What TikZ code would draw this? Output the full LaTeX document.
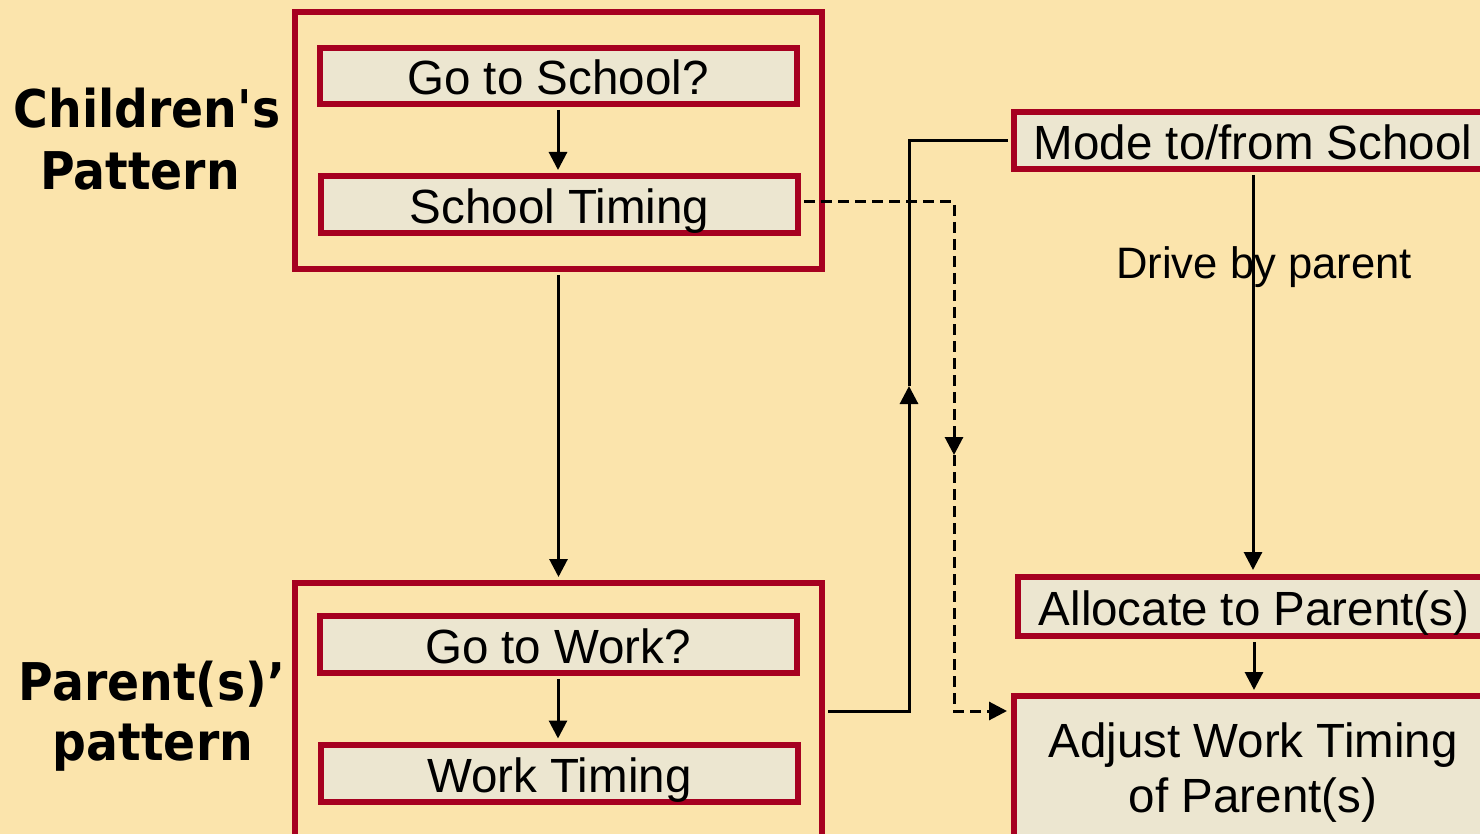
\documentclass[tikz,border=0pt]{standalone}
\usepackage{fontspec}
\setmainfont[FakeStretch=0.99]{Liberation Sans}
\newfontfamily\labelfont[FakeStretch=0.91]{DejaVu Sans}
\usetikzlibrary{arrows.meta}
\definecolor{dred}{HTML}{A60020}
\definecolor{bgc}{HTML}{FBE4AC}
\definecolor{boxfill}{HTML}{ECE6D0}
\newcommand\boxfont{\fontsize{48}{55}\selectfont}
\newcommand\drivefont{\fontsize{44}{52}\selectfont}
\newcommand\bigfont{\labelfont\bfseries\fontsize{52}{62}\selectfont}
\begin{document}
\begin{tikzpicture}[x=1pt,y=-1pt,
  box/.style={draw=dred,line width=6pt,fill=boxfill,inner sep=0pt,
    text height=38pt,text depth=0pt,minimum height=57pt,font=\boxfont},
  adjbox/.style={draw=dred,line width=6pt,fill=boxfill,inner xsep=0pt,
    inner ysep=27pt,align=center,font=\boxfont},
  outerbox/.style={draw=dred,line width=6pt,inner sep=0pt},
  sidelabel/.style={anchor=base,inner sep=0pt,font=\bigfont},
  conn/.style={line width=3pt,black},
  dashconn/.style={line width=3pt,black,dash pattern=on 11pt off 6pt},
  tip/.style={-{Triangle[length=18pt,width=18pt]}}
]
\useasboundingbox (0,0) rectangle (1480,834);
\clip (0,0) rectangle (1480,834);
\fill[bgc] (0,0) rectangle (1480,834);

% outer group boxes
\node[outerbox,minimum width=527pt,minimum height=257pt] (childbox) at (558.5,140.5) {};
\node[outerbox,minimum width=527pt,minimum height=300pt,anchor=north] (parentbox) at (558.5,580) {};

% inner boxes
\node[box,minimum width=477pt,minimum height=56pt] (goschool) at (558,76) {Go to School?};
\node[box,minimum width=477pt] (schooltiming) at (559.5,204.5) {School Timing};
\node[box,minimum width=477pt] (gowork) at (558,644.5) {Go to Work?};
\node[box,minimum width=477pt] (worktiming) at (559.5,773) {Work Timing};

\node[box,minimum width=478pt] (mode) at (1253,140.5) {Mode to/from School};
\node[box,minimum width=472pt,minimum height=59pt] (alloc) at (1254,606.5) {Allocate to Parent(s)};
\node[adjbox,minimum width=478pt,anchor=north] (adjust) at (1253,693) {Adjust Work Timing\\of Parent(s)};

% side labels
\node[sidelabel] (childA) at (147,128) {Children's};
\node[sidelabel] (childB) at (140,190) {Pattern};
\node[sidelabel] (parA) at (152,700) {Parent(s)’};
\node[sidelabel] (parB) at (153,760) {pattern};

% drive label
\node[anchor=base,inner sep=0pt,font=\drivefont] (drive) at (1264,279) {Drive by parent};

% coordinates for connector bends
\coordinate (turnA) at (909,711);
\coordinate (midA) at (909,386);
\coordinate (dA) at (954,202);
\coordinate (dB) at (954,455);
\coordinate (dC) at (954,711);

% connectors
\draw[conn,tip,shorten <=3pt,shorten >=3pt] (goschool.south) -- (goschool.south |- schooltiming.north);
\draw[conn,tip,shorten <=3pt,shorten >=3pt] (gowork.south) -- (gowork.south |- worktiming.north);
\draw[conn,tip,shorten <=3pt,shorten >=3pt] (childbox.south) -- (childbox.south |- parentbox.north);

\draw[conn,tip,shorten <=3pt] (parentbox.east |- turnA) -- (turnA) -- (midA);
\draw[conn,shorten >=3pt] (midA) |- (mode.west);

\draw[dashconn,tip,shorten <=3pt] (schooltiming.east |- dA) -- (dA) -- (dB);
\draw[dashconn,tip,shorten >=4pt] (dB) -- (dC) -- (adjust.west |- dC);

\draw[conn,tip,shorten <=3pt,shorten >=4pt] (mode.south) -- (mode.south |- alloc.north);
\draw[conn,tip,shorten <=3pt,shorten >=3pt] (alloc.south) -- (alloc.south |- adjust.north);
\end{tikzpicture}
\end{document}
